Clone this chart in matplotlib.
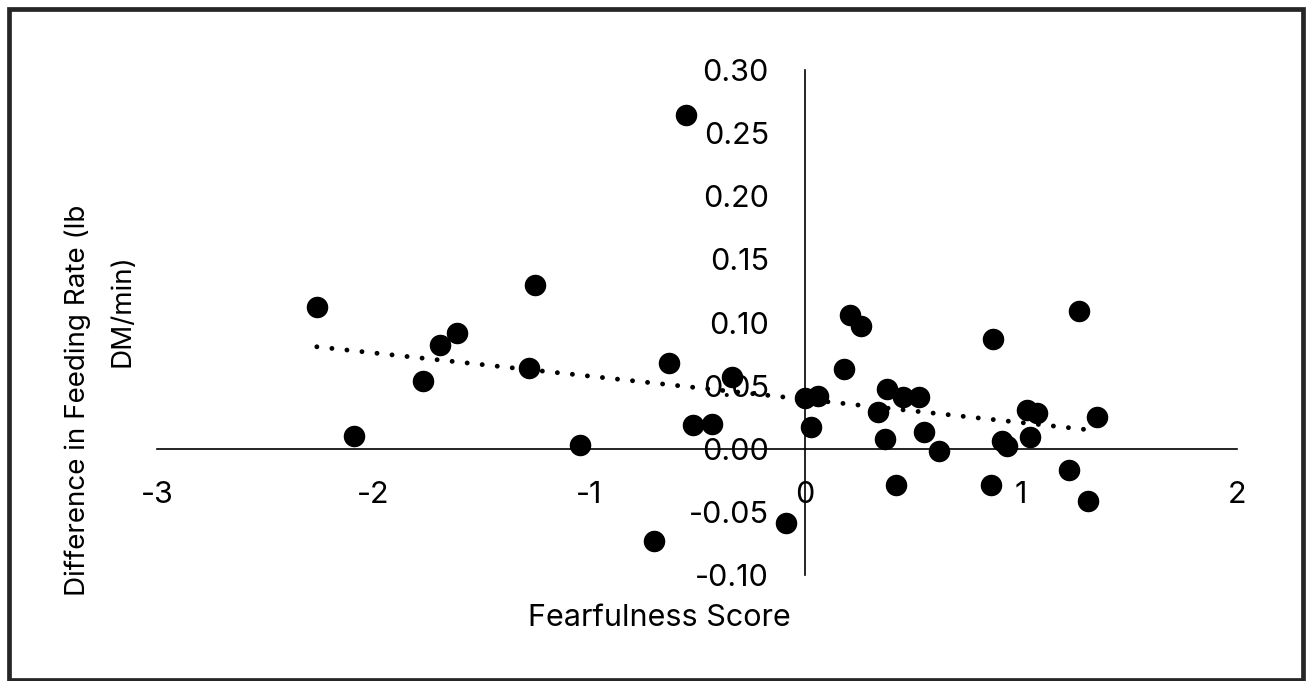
import numpy as np
import matplotlib.pyplot as plt
from matplotlib.patches import Rectangle

# fearfulness score vs difference in feeding rate
fear_score = [-2.26, -2.09, -1.77, -1.69, -1.61, -1.25, -1.28, -1.04, -0.63, -0.70,
              -0.55, -0.52, -0.43, -0.34, -0.09, 0.00, 0.03, 0.06, 0.21, 0.26,
              0.18, 0.38, 0.455, 0.53, 0.34, 0.37, 0.55, 0.62, 0.42, 0.87,
              0.86, 0.91, 0.935, 1.03, 1.075, 1.04, 1.27, 1.22, 1.31, 1.35]
feed_diff = [0.112, 0.010, 0.054, 0.082, 0.092, 0.130, 0.064, 0.003, 0.068, -0.073,
             0.264, 0.019, 0.020, 0.057, -0.059, 0.040, 0.017, 0.042, 0.106, 0.097,
             0.063, 0.047, 0.041, 0.041, 0.029, 0.008, 0.013, -0.002, -0.029, 0.087,
             -0.029, 0.006, 0.002, 0.031, 0.028, 0.009, 0.109, -0.017, -0.041, 0.025]

x_ticks = [-3, -2, -1, 0, 1, 2]
y_ticks = [-0.10, -0.05, 0.00, 0.05, 0.10, 0.15, 0.20, 0.25, 0.30]

plt.rcParams['font.family'] = ['Inter', 'DejaVu Sans']

W, H = 1306, 681
fig = plt.figure(figsize=(W / 100, H / 100), dpi=100)
ax = fig.add_axes([157 / W, 1 - 575 / H, (1237 - 157) / W, (575 - 70) / H])

ax.scatter(fear_score, feed_diff, s=210, color='black', zorder=3)

# linear trendline
slope, intercept = np.polyfit(fear_score, feed_diff, 1)
xt = np.array([min(fear_score), max(fear_score)])
ax.plot(xt, slope * xt + intercept, color='black', lw=3.5,
        linestyle=(0, (0.01, 3.1)), dash_capstyle='round', zorder=2)

ax.set_xlim(-3, 2)
ax.set_ylim(-0.10, 0.30)
ax.set_xticks(x_ticks)
ax.set_xticklabels([str(t) for t in x_ticks])
ax.set_yticks(y_ticks)
ax.set_yticklabels(['%.2f' % t for t in y_ticks])

ax.spines['left'].set_position(('data', 0))
ax.spines['bottom'].set_position(('data', 0))
ax.spines['top'].set_visible(False)
ax.spines['right'].set_visible(False)
ax.spines['left'].set_linewidth(1.2)
ax.spines['bottom'].set_linewidth(1.2)
ax.tick_params(axis='x', length=0, pad=23, labelsize=22)
ax.tick_params(axis='y', length=0, pad=26, labelsize=22)

fig.text(659 / W, 1 - 618 / H, 'Fearfulness Score', fontsize=22,
         ha='center', va='center')
# two-line y title, lines placed as in the original
fig.text(78 / W, 1 - 400 / H, 'Difference in Feeding Rate (lb',
         fontsize=20, rotation=90, ha='center', va='center')
fig.text(122 / W, 1 - 311 / H, 'DM/min)',
         fontsize=20, rotation=90, ha='center', va='center')

fig.patches.append(Rectangle((9 / W, 1.5 / H), 1293.5 / W, 670.5 / H,
                             transform=fig.transFigure, fill=False,
                             edgecolor='#262626', lw=3.4))

fig.savefig('out.png', dpi=100)
